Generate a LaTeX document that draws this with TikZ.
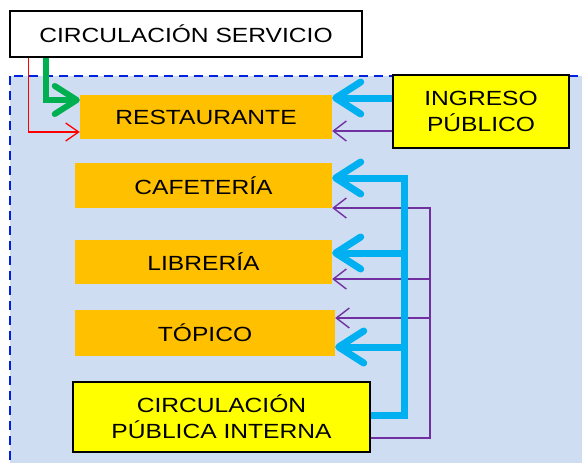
\documentclass[tikz,border=0pt]{standalone}
\usepackage{fontspec}
\setmainfont{Liberation Sans}[FakeStretch=1.2]
\usepackage{tikz}
\usetikzlibrary{arrows.meta, positioning, calc}

\definecolor{fondo}{RGB}{207,221,242}
\definecolor{naranja}{RGB}{255,192,0}
\definecolor{amarillo}{RGB}{255,255,0}
\definecolor{celeste}{RGB}{0,176,240}
\definecolor{verde}{RGB}{0,176,80}
\definecolor{morado}{RGB}{112,48,160}
\definecolor{azulborde}{RGB}{0,32,224}

\begin{document}
\begin{tikzpicture}[x=1pt, y=-1pt,
  texto/.style={font=\fontsize{20.5}{26}\selectfont, align=center, inner sep=0pt},
  ambiente/.style={texto, fill=naranja, minimum height=44pt},
  acceso/.style={texto, fill=amarillo, draw=black, line width=1.5pt},
  flujo/.style={celeste, line width=7pt, -{Straight Barb[length=25pt, width=32pt, round]}},
  flujofino/.style={morado, line width=1.4pt, -{Straight Barb[length=13pt, width=20pt]}}]
  % marco de la imagen
  \clip (0,0) rectangle (582,463);
  % zona publica
  \draw[azulborde, fill=fondo, line width=2pt, dash pattern=on 9pt off 6pt] (10,76) rectangle (620,500);
  % cajas
  \node[texto, draw=black, fill=white, line width=1.5pt, minimum width=352pt, minimum height=46pt] (serv) at (186,34) {CIRCULACIÓN SERVICIO};
  \node[ambiente, minimum width=252pt] (rest) at (206,117) {RESTAURANTE};
  \node[acceso, minimum width=176pt, minimum height=73pt] (ing) at (481,111.5) {INGRESO\\PÚBLICO};
  \node[ambiente, minimum width=257pt, minimum height=45pt] (caf) at (203.5,185.5) {CAFETERÍA};
  \node[ambiente, minimum width=257pt] (lib) at (203.5,262) {LIBRERÍA};
  \node[ambiente, minimum width=260pt, minimum height=46pt] (top) at (205,333) {TÓPICO};
  \node[acceso, minimum width=297pt, minimum height=70pt] (cpi) at (221.5,417) {CIRCULACIÓN\\PÚBLICA INTERNA};
  % circulacion de servicio
  \draw[red, line width=1.3pt, -{Straight Barb[length=13pt, width=18pt]}]
    ([xshift=19pt]serv.south west) |- ([yshift=-15pt]rest.west);
  \draw[verde, line width=6pt, -{Straight Barb[length=22pt, width=28pt, round]}]
    ([xshift=37pt]serv.south west) |- ([yshift=17pt]rest.west);
  % ingreso publico
  \draw[flujo] ([yshift=13.5pt]ing.west) -- ([yshift=13.5pt]ing.west -| rest.east);
  \draw[flujofino] ([yshift=-19.5pt]ing.west) -- ([yshift=-19.5pt]ing.west -| rest.east);
  % circulacion publica interna
  \coordinate (c1) at (404,178);
  \coordinate (c2) at (404,253);
  \coordinate (c3) at (404,347);
  \coordinate (m1) at (430,208);
  \coordinate (m2) at (430,279);
  \coordinate (m3) at (430,318);
  \draw[flujofino] ([yshift=-21pt]cpi.east) -| (m1) -- (m1 -| caf.east);
  \foreach \m/\amb in {m2/lib, m3/top} {
    \draw[flujofino] (\m) -- (\m -| \amb.east);
  }
  \draw[flujo] ([yshift=2pt]cpi.east) -| (c1) -- (c1 -| caf.east);
  \foreach \c/\amb in {c2/lib, c3/top} {
    \draw[flujo] (\c) -- (\c -| \amb.east);
  }
\end{tikzpicture}
\end{document}
